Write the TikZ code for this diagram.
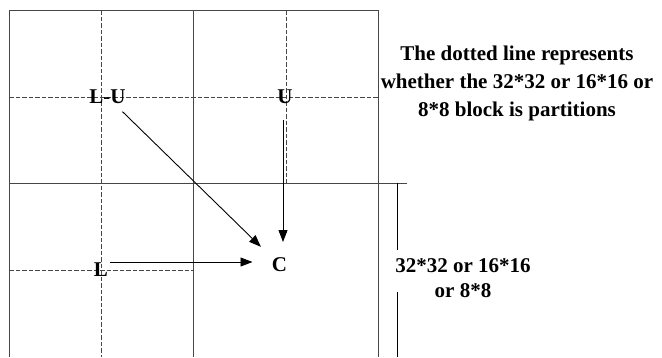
\documentclass[tikz,border=0pt]{standalone}
\usepackage{fontspec}
\setmainfont{Liberation Serif}
\usepackage{tikz}
\definecolor{gridgray}{RGB}{70,70,70}
\usetikzlibrary{arrows.meta,calc}

\begin{document}
\begin{tikzpicture}[x=1pt,y=-1pt,
    solidline/.style={gridgray, line width=1pt},
    dashline/.style={gridgray, line width=1pt, dash pattern=on 4.5pt off 2pt},
    arr/.style={black, line width=0.9pt, -{Triangle[length=12pt,width=9pt]}},
    lbl/.style={inner sep=0pt, font=\fontsize{21}{25}\selectfont\bfseries}]
    \useasboundingbox (0,0) rectangle (662,357);

    % Block grid
    \draw[solidline] (9,357) -- (9,10) -- (378,10) -- (378,357);
    \draw[solidline] (193,10) -- (193,357);
    \draw[solidline] (9,183) -- (407,183);

    % Dotted partitions
    \draw[dashline] (9,97) -- (378,97);
    \draw[dashline] (101,10) -- (101,357);
    \draw[dashline] (286,10) -- (286,183);
    \draw[dashline] (9,270) -- (193,270);

    % Neighbouring blocks and current block
    \node[lbl] (LU) at (107.5,97) {L-U};
    \node[lbl] (U) at (285,97) {U};
    \node[lbl] (L) at (101,270) {L};
    \node[lbl] (C) at (279.5,265) {C};

    \draw[arr, shorten <=21pt, shorten >=26pt] (LU.center) -- (C.center);
    \draw[arr, shorten <=23pt, shorten >=23pt] ([xshift=-2pt]U.center) -- ([xshift=-2pt]U.center |- C.center);
    \draw[arr, shorten <=9pt, shorten >=27pt] ([yshift=3pt]L.center |- C.center) -- ([yshift=3pt]C.center);

    % Notes
    \node[lbl, align=center, font=\fontsize{21}{28}\selectfont\bfseries] (note) at (517,83)
        {The dotted line represents\\whether the 32*32 or 16*16 or\\8*8 block is partitions};
    \node[lbl, align=center] (size) at (463,278) {32*32 or 16*16\\or 8*8};

    % Size marker
    \coordinate (sizetop) at (397,183);
    \coordinate (sizebot) at (397,357);
    \draw[black, line width=0.9pt] (sizetop) -- ($(sizetop)+(0,67)$);
    \draw[black, line width=0.9pt] ($(sizebot)+(0,-65)$) -- (sizebot);
\end{tikzpicture}
\end{document}
